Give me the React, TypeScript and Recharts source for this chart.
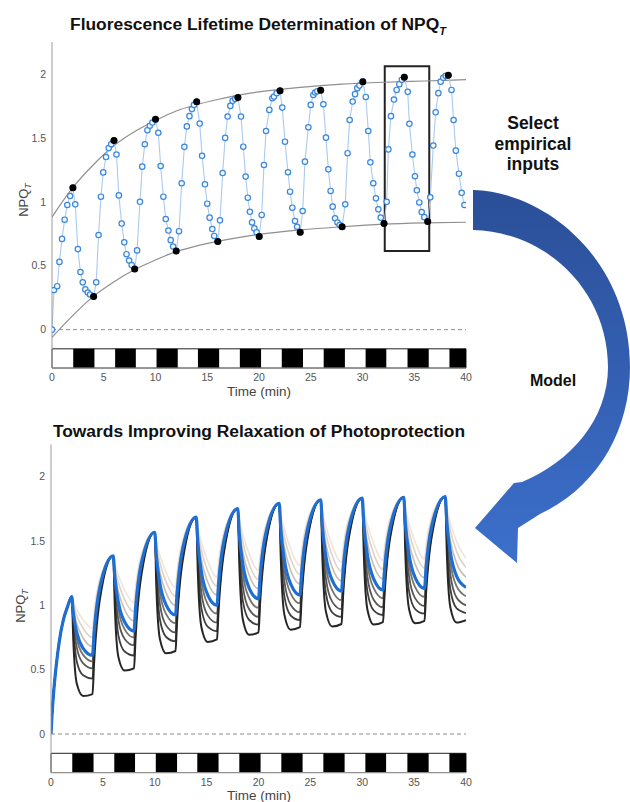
import React from "react";
import { ComposedChart, Line, Scatter, XAxis, YAxis, ReferenceLine, ReferenceArea } from "recharts";

const FONT = '"Liberation Sans", Arial, Helvetica, sans-serif';
const AXIS = "#9a9a9a";

const timeTicks = [0, 5, 10, 15, 20, 25, 30, 35, 40];
const npqTicks = [0, 0.5, 1, 1.5, 2];

// dark periods of the light regime (black blocks in the strip under each plot)
const darkPeriods: [number, number][] = [
  [2.05, 4.1], [6.1, 8.1], [10.1, 12.15], [14.1, 16.15], [18.15, 20.2],
  [22.2, 24.25], [26.25, 28.3], [30.3, 32.3], [34.35, 36.4], [38.4, 40],
];

// measured NPQ_T (open circles), [time, value]
const lifetimeSamples: [number, number][] = [
  [0, 0], [0.2, 0.31], [0.5, 0.34], [0.72, 0.53], [0.97, 0.71], [1.22, 0.86], [1.48, 0.975], [1.75, 1.045], [2.02, 1.11],
  [2.25, 0.98], [2.5, 0.63], [2.75, 0.45], [2.97, 0.37], [3.22, 0.315], [3.46, 0.29], [3.68, 0.275], [4.02, 0.26],
  [4.27, 0.37], [4.5, 0.74], [4.73, 1.04], [4.95, 1.23], [5.22, 1.35], [5.48, 1.42], [5.72, 1.45], [5.99, 1.48],
  [6.23, 1.37], [6.46, 1.05], [6.73, 0.83], [6.98, 0.683], [7.2, 0.59], [7.45, 0.54], [7.7, 0.505], [7.99, 0.474],
  [8.22, 0.62], [8.5, 1.0], [8.72, 1.275], [8.97, 1.45], [9.22, 1.56], [9.45, 1.595], [9.7, 1.62], [10.0, 1.646],
  [10.27, 1.54], [10.5, 1.28], [10.76, 1.04], [10.99, 0.865], [11.25, 0.775], [11.47, 0.7], [11.7, 0.65], [12.0, 0.615],
  [12.27, 0.77], [12.53, 1.145], [12.79, 1.43], [13.03, 1.59], [13.28, 1.67], [13.52, 1.725], [13.72, 1.758], [13.98, 1.782],
  [14.27, 1.612], [14.5, 1.36], [14.78, 1.137], [15.0, 0.985], [15.23, 0.876], [15.49, 0.787], [15.67, 0.733], [16.02, 0.69],
  [16.23, 0.855], [16.49, 1.225], [16.73, 1.5], [16.97, 1.667], [17.23, 1.75], [17.45, 1.79], [17.7, 1.805], [17.96, 1.816],
  [18.26, 1.667], [18.48, 1.431], [18.71, 1.197], [18.92, 1.032], [19.12, 0.922], [19.33, 0.839], [19.55, 0.792], [19.77, 0.762], [20.02, 0.729],
  [20.26, 0.897], [20.48, 1.288], [20.68, 1.554], [21.0, 1.719], [21.29, 1.81], [21.45, 1.823], [21.71, 1.85], [22.03, 1.868],
  [22.25, 1.737], [22.51, 1.47], [22.8, 1.231], [23.0, 1.079], [23.22, 0.954], [23.48, 0.85], [23.68, 0.805], [23.98, 0.761],
  [24.22, 0.928], [24.44, 1.314], [24.77, 1.583], [25.0, 1.758], [25.25, 1.836], [25.42, 1.855], [25.63, 1.865], [25.96, 1.872],
  [26.22, 1.763], [26.47, 1.502], [26.7, 1.254], [26.92, 1.085], [27.12, 0.962], [27.35, 0.871], [27.58, 0.838], [27.8, 0.818], [28.03, 0.805],
  [28.33, 0.98], [28.56, 1.38], [28.76, 1.64], [29.05, 1.784], [29.28, 1.842], [29.5, 1.889], [29.7, 1.909], [30.03, 1.94],
  [30.32, 1.82], [30.56, 1.554], [30.76, 1.309], [31.04, 1.145], [31.3, 1.027], [31.53, 0.941], [31.76, 0.876], [32.08, 0.831],
  [32.34, 1.0], [32.5, 1.41], [32.75, 1.67], [33.04, 1.8], [33.3, 1.875], [33.56, 1.92], [33.8, 1.955], [34.04, 1.975],
  [34.37, 1.86], [34.53, 1.61], [34.82, 1.37], [35.07, 1.2], [35.25, 1.09], [35.49, 0.995], [35.72, 0.92], [35.97, 0.88], [36.3, 0.845],
  [36.55, 1.035], [36.84, 1.44], [37.07, 1.7], [37.33, 1.85], [37.55, 1.94], [37.8, 1.97], [38.04, 1.985], [38.29, 1.99],
  [38.6, 1.875], [38.8, 1.64], [39.02, 1.4], [39.32, 1.22], [39.58, 1.07], [39.85, 0.975],
];

// selected empirical inputs (filled dots): end of light and end of dark
const peakSamples: [number, number][] = [
  [2.02, 1.11], [5.99, 1.48], [10.0, 1.646], [13.98, 1.782], [17.96, 1.816],
  [22.03, 1.868], [25.96, 1.872], [30.03, 1.94], [34.04, 1.975], [38.29, 1.99],
];
const troughSamples: [number, number][] = [
  [4.02, 0.26], [7.99, 0.474], [12.0, 0.615], [16.02, 0.69], [20.02, 0.729],
  [23.98, 0.761], [28.03, 0.805], [32.08, 0.831], [36.3, 0.845],
];

// fitted envelopes (grey curves)
const envTimes = [0, 2, 4, 6, 8, 10, 12, 14, 16, 18, 20, 24, 28, 32, 36, 40];
const upperEnv = [0.88, 1.11, 1.29, 1.44, 1.55, 1.635, 1.71, 1.76, 1.8, 1.835, 1.86, 1.895, 1.92, 1.935, 1.945, 1.955];
const lowerEnv = [-0.06, 0.11, 0.26, 0.375, 0.47, 0.545, 0.61, 0.655, 0.69, 0.72, 0.745, 0.78, 0.805, 0.825, 0.835, 0.84];

// model runs (bottom panel)
const modelTimes = [
  0, 0.1, 0.25, 0.5, 0.8, 1.2, 1.6, 2,
  2.15, 2.5, 3.1, 4, 4.15, 4.7, 6,
  6.15, 6.5, 7.1, 8, 8.15, 8.7, 10,
  10.15, 10.5, 11.1, 12, 12.15, 12.7, 14,
  14.15, 14.5, 15.1, 16, 16.15, 16.7, 18,
  18.15, 18.5, 19.1, 20, 20.15, 20.7, 22,
  22.15, 22.5, 23.1, 24, 24.15, 24.7, 26,
  26.15, 26.5, 27.1, 28, 28.15, 28.7, 30,
  30.15, 30.5, 31.1, 32, 32.15, 32.7, 34,
  34.15, 34.5, 35.1, 36, 36.15, 36.7, 38,
  38.15, 38.5, 39.1, 40,
];
const modelSlow1 = [
  0, 0.15, 0.32, 0.53, 0.72, 0.89, 0.99, 1.068,
  1.026, 0.964, 0.887, 0.82, 0.944, 1.204, 1.384,
  1.322, 1.231, 1.118, 1.02, 1.141, 1.393, 1.568,
  1.495, 1.388, 1.256, 1.14, 1.26, 1.511, 1.685,
  1.606, 1.49, 1.346, 1.22, 1.337, 1.582, 1.752,
  1.67, 1.55, 1.4, 1.27, 1.385, 1.626, 1.793,
  1.711, 1.59, 1.44, 1.31, 1.422, 1.657, 1.82,
  1.738, 1.616, 1.466, 1.335, 1.445, 1.674, 1.833,
  1.751, 1.63, 1.48, 1.35, 1.458, 1.683, 1.84,
  1.758, 1.638, 1.49, 1.36, 1.467, 1.69, 1.845,
  1.763, 1.643, 1.495, 1.365,
];
const modelSlow2 = [
  0, 0.15, 0.32, 0.53, 0.72, 0.89, 0.99, 1.068,
  1.004, 0.915, 0.82, 0.75, 0.889, 1.181, 1.384,
  1.297, 1.176, 1.045, 0.95, 1.086, 1.37, 1.568,
  1.468, 1.329, 1.18, 1.07, 1.205, 1.488, 1.685,
  1.578, 1.428, 1.268, 1.15, 1.282, 1.559, 1.752,
  1.642, 1.487, 1.321, 1.2, 1.33, 1.603, 1.793,
  1.682, 1.528, 1.362, 1.24, 1.368, 1.634, 1.82,
  1.709, 1.554, 1.387, 1.265, 1.39, 1.651, 1.833,
  1.722, 1.568, 1.402, 1.28, 1.403, 1.661, 1.84,
  1.73, 1.576, 1.411, 1.29, 1.412, 1.667, 1.845,
  1.735, 1.581, 1.416, 1.295,
];
const modelSlow3 = [
  0, 0.15, 0.32, 0.53, 0.72, 0.89, 0.99, 1.068,
  0.975, 0.855, 0.746, 0.68, 0.835, 1.159, 1.384,
  1.263, 1.107, 0.966, 0.88, 1.031, 1.348, 1.568,
  1.432, 1.256, 1.097, 1.0, 1.151, 1.466, 1.685,
  1.54, 1.352, 1.183, 1.08, 1.228, 1.537, 1.752,
  1.603, 1.41, 1.236, 1.13, 1.276, 1.581, 1.793,
  1.642, 1.448, 1.272, 1.165, 1.309, 1.61, 1.82,
  1.669, 1.473, 1.297, 1.19, 1.331, 1.627, 1.833,
  1.682, 1.488, 1.312, 1.205, 1.345, 1.637, 1.84,
  1.69, 1.496, 1.321, 1.215, 1.354, 1.643, 1.845,
  1.695, 1.501, 1.326, 1.22,
];
const modelBlue = [
  0, 0.15, 0.32, 0.53, 0.72, 0.89, 0.99, 1.068,
  0.94, 0.784, 0.665, 0.61, 0.78, 1.136, 1.384,
  1.22, 1.022, 0.87, 0.8, 0.969, 1.322, 1.568,
  1.388, 1.169, 1.002, 0.925, 1.092, 1.442, 1.685,
  1.493, 1.26, 1.082, 1.0, 1.165, 1.511, 1.752,
  1.555, 1.317, 1.134, 1.05, 1.213, 1.555, 1.793,
  1.593, 1.351, 1.166, 1.08, 1.243, 1.583, 1.82,
  1.621, 1.38, 1.195, 1.11, 1.269, 1.602, 1.833,
  1.633, 1.391, 1.206, 1.12, 1.278, 1.61, 1.84,
  1.641, 1.4, 1.215, 1.13, 1.287, 1.616, 1.845,
  1.648, 1.408, 1.225, 1.14,
];
const modelFast3 = [
  0, 0.15, 0.32, 0.53, 0.72, 0.89, 0.99, 1.068,
  0.917, 0.736, 0.615, 0.565, 0.745, 1.122, 1.384,
  1.194, 0.966, 0.813, 0.75, 0.93, 1.306, 1.568,
  1.356, 1.101, 0.931, 0.86, 1.042, 1.421, 1.685,
  1.46, 1.19, 1.01, 0.935, 1.115, 1.491, 1.752,
  1.52, 1.242, 1.057, 0.98, 1.159, 1.533, 1.793,
  1.56, 1.28, 1.093, 1.015, 1.192, 1.562, 1.82,
  1.586, 1.305, 1.118, 1.04, 1.214, 1.579, 1.833,
  1.6, 1.32, 1.133, 1.055, 1.228, 1.589, 1.84,
  1.607, 1.328, 1.142, 1.065, 1.237, 1.595, 1.845,
  1.612, 1.333, 1.147, 1.07,
];
const modelFast2 = [
  0, 0.15, 0.32, 0.53, 0.72, 0.89, 0.99, 1.068,
  0.889, 0.666, 0.549, 0.51, 0.702, 1.104, 1.384,
  1.162, 0.884, 0.739, 0.69, 0.883, 1.287, 1.568,
  1.319, 1.008, 0.844, 0.79, 0.987, 1.399, 1.685,
  1.423, 1.095, 0.922, 0.865, 1.06, 1.468, 1.752,
  1.483, 1.146, 0.969, 0.91, 1.104, 1.51, 1.793,
  1.522, 1.182, 1.004, 0.945, 1.138, 1.54, 1.82,
  1.548, 1.208, 1.029, 0.97, 1.16, 1.557, 1.833,
  1.562, 1.222, 1.044, 0.985, 1.173, 1.566, 1.84,
  1.57, 1.232, 1.054, 0.995, 1.182, 1.573, 1.845,
  1.575, 1.237, 1.059, 1.0,
];
const modelFast1 = [
  0, 0.15, 0.32, 0.53, 0.72, 0.89, 0.99, 1.068,
  0.838, 0.558, 0.456, 0.43, 0.64, 1.079, 1.384,
  1.105, 0.765, 0.641, 0.61, 0.821, 1.261, 1.568,
  1.263, 0.89, 0.754, 0.72, 0.932, 1.376, 1.685,
  1.366, 0.977, 0.835, 0.8, 1.009, 1.447, 1.752,
  1.427, 1.03, 0.886, 0.85, 1.057, 1.491, 1.793,
  1.466, 1.067, 0.921, 0.885, 1.091, 1.521, 1.82,
  1.492, 1.092, 0.946, 0.91, 1.113, 1.538, 1.833,
  1.506, 1.107, 0.961, 0.925, 1.126, 1.547, 1.84,
  1.514, 1.116, 0.971, 0.935, 1.135, 1.554, 1.845,
  1.519, 1.121, 0.976, 0.94,
];
const modelFastest = [
  0, 0.15, 0.32, 0.53, 0.72, 0.89, 0.99, 1.068,
  0.727, 0.386, 0.295, 0.31, 0.546, 1.04, 1.384,
  0.991, 0.597, 0.493, 0.51, 0.743, 1.229, 1.568,
  1.153, 0.737, 0.627, 0.645, 0.874, 1.352, 1.685,
  1.258, 0.83, 0.716, 0.735, 0.959, 1.427, 1.752,
  1.319, 0.886, 0.771, 0.79, 1.011, 1.472, 1.793,
  1.36, 0.926, 0.811, 0.83, 1.048, 1.503, 1.82,
  1.386, 0.951, 0.836, 0.855, 1.07, 1.52, 1.833,
  1.4, 0.966, 0.851, 0.87, 1.083, 1.53, 1.84,
  1.408, 0.976, 0.861, 0.88, 1.092, 1.536, 1.845,
  1.413, 0.981, 0.866, 0.885,
];

const modelSeries = [
  { key: "s1", values: modelSlow1, color: "#efe5da", width: 1.6 },
  { key: "s2", values: modelSlow2, color: "#e0d2c5", width: 1.6 },
  { key: "s3", values: modelSlow3, color: "#c9bcb1", width: 1.6 },
  { key: "f3", values: modelFast3, color: "#77736f", width: 1.8 },
  { key: "f2", values: modelFast2, color: "#5a5856", width: 1.8 },
  { key: "f1", values: modelFast1, color: "#403f3e", width: 1.8 },
  { key: "f0", values: modelFastest, color: "#262626", width: 2 },
  { key: "blue", values: modelBlue, color: "#1f6fd3", width: 3.2 },
];

const lifetimeRows = lifetimeSamples.map(([t, v]) => ({ t, v }));
const peakRows = peakSamples.map(([t, v]) => ({ t, v }));
const troughRows = troughSamples.map(([t, v]) => ({ t, v }));
const upperRows = envTimes.map((t, i) => ({ t, v: upperEnv[i] }));
const lowerRows = envTimes.map((t, i) => ({ t, v: lowerEnv[i] }));
const modelRows = modelTimes.map((t, i) => {
  const row: Record<string, number> = { t };
  modelSeries.forEach((s) => (row[s.key] = s.values[i]));
  return row;
});

const tickStyle = { fontSize: 10.5, fill: "#555", fontFamily: FONT };

// box axes in the MATLAB style: labels left/bottom, short inward ticks all round
function frameAxes() {
  return [
    <XAxis key="xb" dataKey="t" type="number" domain={[0, 40]} ticks={timeTicks} interval={0}
      allowDataOverflow height={20} tickLine={false} tickSize={0} tickMargin={6}
      axisLine={{ stroke: AXIS }} tick={tickStyle} />,
    <XAxis key="xt" xAxisId="top" orientation="top" dataKey="t" type="number" domain={[0, 40]}
      ticks={timeTicks} interval={0} allowDataOverflow mirror height={0} tickSize={4}
      tick={false} axisLine={{ stroke: AXIS }} tickLine={{ stroke: AXIS }} />,
    <YAxis key="yl" type="number" domain={[-0.3, 2.25]} ticks={npqTicks} interval={0}
      allowDataOverflow width={30} tickLine={false} tickSize={0} tickMargin={6}
      axisLine={{ stroke: AXIS }} tick={tickStyle} />,
    <YAxis key="yli" yAxisId="li" type="number" domain={[-0.3, 2.25]} ticks={npqTicks} interval={0}
      allowDataOverflow mirror width={0} tickSize={4} tick={false} axisLine={false}
      tickLine={{ stroke: AXIS }} />,
    <YAxis key="yr" yAxisId="r" orientation="right" type="number" domain={[-0.3, 2.25]}
      ticks={npqTicks} interval={0} allowDataOverflow mirror width={0} tickSize={4} tick={false}
      axisLine={{ stroke: AXIS }} tickLine={{ stroke: AXIS }} />,
  ];
}

function lightStrip() {
  return [
    <ReferenceLine key="zero" y={0} stroke="#8c8c8c" strokeDasharray="4 3" />,
    <ReferenceArea key="strip" x1={0} x2={40} y1={-0.3} y2={-0.15} fill="#fff" fillOpacity={1}
      stroke="#222" strokeWidth={1} />,
    ...darkPeriods.map(([a, b]) => (
      <ReferenceArea key={"d" + a} x1={a} x2={b} y1={-0.3} y2={-0.15} fill="#000" fillOpacity={1}
        stroke="none" />
    )),
  ];
}

function Overlay() {
  return (
    <svg width={630} height={802} style={{ position: "absolute", left: 0, top: 0, pointerEvents: "none" }}
      fontFamily={FONT}>
      <defs>
        <linearGradient id="arrowFill" x1="0" y1="190" x2="0" y2="565" gradientUnits="userSpaceOnUse">
          <stop offset="0" stopColor="#2b4f98" />
          <stop offset="1" stopColor="#3c70cc" />
        </linearGradient>
      </defs>

      <text x={258} y={30} textAnchor="middle" fontSize={17.4} fontWeight="bold" fill="#111">
        Fluorescence Lifetime Determination of NPQ
        <tspan fontSize={11} fontStyle="italic" dy={5}>T</tspan>
      </text>
      <text x={259} y={437} textAnchor="middle" fontSize={17.4} fontWeight="bold" fill="#111">
        Towards Improving Relaxation of Photoprotection
      </text>

      <text transform="translate(28,200) rotate(-90)" textAnchor="middle" fontSize={13} fill="#444">
        NPQ<tspan fontSize={9} fontStyle="italic" dy={3}>T</tspan>
      </text>
      <text transform="translate(25,606) rotate(-90)" textAnchor="middle" fontSize={13} fill="#444">
        NPQ<tspan fontSize={9} fontStyle="italic" dy={3}>T</tspan>
      </text>
      <text x={259} y={396} textAnchor="middle" fontSize={13.5} fill="#444">Time (min)</text>
      <text x={259} y={800} textAnchor="middle" fontSize={13.5} fill="#444">Time (min)</text>

      <path
        d="M 473 190 C 548 192, 630 262, 630 367 C 630 432, 596 488, 540 514 L 518 528 L 517 563
           L 475 528 L 514 483 L 522 482 C 570 462, 608 420, 608 367 C 608 292, 548 232, 473 230 Z"
        fill="url(#arrowFill)"
      />

      <g fontWeight="bold" fontSize={17.5} fill="#111" textAnchor="middle">
        <text x={533} y={129}>Select</text>
        <text x={533} y={150}>empirical</text>
        <text x={533} y={170}>inputs</text>
      </g>
      <text x={553} y={386} textAnchor="middle" fontWeight="bold" fontSize={16} fill="#111">Model</text>
    </svg>
  );
}

export default function App() {
  return (
    <div style={{ position: "absolute", left: 0, top: 0, width: 630, height: 802, overflow: "hidden",
      background: "#fff", fontFamily: FONT }}>
      <div style={{ position: "absolute", left: 0, top: 0 }}>
        <ComposedChart width={480} height={400} margin={{ top: 42, right: 14, bottom: 12, left: 22 }}>
          {frameAxes()}
          {lightStrip()}
          <Line data={upperRows} dataKey="v" type="monotone" stroke="#8f8f8f" strokeWidth={1.2}
            dot={false} activeDot={false} isAnimationActive={false} />
          <Line data={lowerRows} dataKey="v" type="monotone" stroke="#8f8f8f" strokeWidth={1.2}
            dot={false} activeDot={false} isAnimationActive={false} />
          <Line data={lifetimeRows} dataKey="v" type="linear" stroke="#a9cbee" strokeWidth={1.1}
            dot={{ r: 2.7, stroke: "#3a86da", strokeWidth: 1.2, fill: "#f3f8fe" }}
            activeDot={false} isAnimationActive={false} />
          <Scatter data={peakRows} dataKey="v" isAnimationActive={false}
            shape={(p: any) => <circle cx={p.cx} cy={p.cy} r={3.5} fill="#000" />} />
          <Scatter data={troughRows} dataKey="v" isAnimationActive={false}
            shape={(p: any) => <circle cx={p.cx} cy={p.cy} r={3.5} fill="#000" />} />
          <ReferenceArea x1={32.15} x2={36.45} y1={0.615} y2={2.06} fill="none" fillOpacity={0}
            stroke="#222" strokeWidth={2} />
        </ComposedChart>
      </div>

      <div style={{ position: "absolute", left: 0, top: 400 }}>
        <ComposedChart width={480} height={402} data={modelRows}
          margin={{ top: 44.5, right: 14, bottom: 9.4, left: 21 }}>
          {frameAxes()}
          {lightStrip()}
          {modelSeries.map((s) => (
            <Line key={s.key} dataKey={s.key} type="monotone" stroke={s.color} strokeWidth={s.width}
              dot={false} activeDot={false} isAnimationActive={false} />
          ))}
        </ComposedChart>
      </div>

      <Overlay />
    </div>
  );
}
